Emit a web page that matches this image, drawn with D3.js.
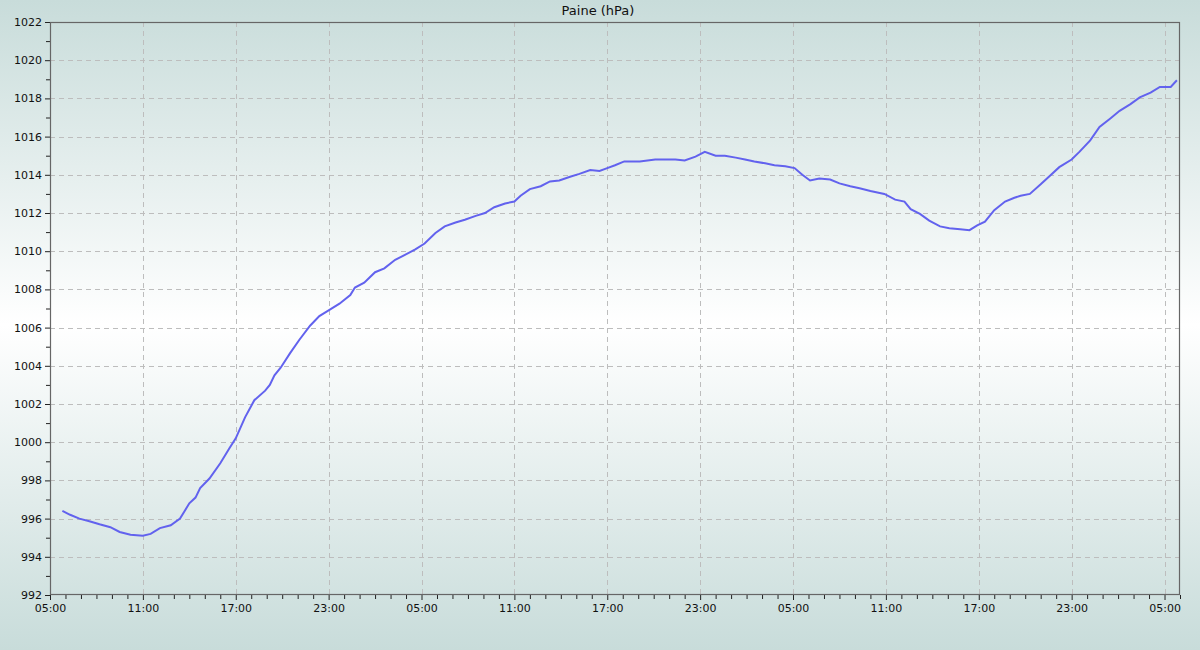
<!DOCTYPE html>
<html><head><meta charset="utf-8">
<script src="https://cdn.jsdelivr.net/npm/d3@7"></script>
<style>html,body{margin:0;padding:0;background:#fff}svg{display:block}</style>
</head><body>
<script>
const title = "Paine (hPa)";
// hours since 05:00 on the first day
const hours = [0.8,1.3,1.9,2.6,3.2,3.9,4.5,5.2,6.0,6.5,7.1,7.8,8.4,8.7,9.0,9.4,9.7,10.3,11.0,11.6,12.0,12.6,13.2,13.9,14.2,14.5,14.9,15.5,16.1,16.8,17.4,18.0,18.7,19.4,19.7,20.3,21.0,21.6,22.3,22.9,23.6,24.2,24.9,25.5,26.2,26.8,27.5,28.1,28.7,29.4,30.0,30.4,31.0,31.7,32.3,32.9,33.6,34.2,34.9,35.5,36.0,36.5,37.1,38.1,39.1,39.7,40.4,41.0,41.7,42.3,43.0,43.6,44.3,44.9,45.5,46.2,46.8,47.5,48.1,48.6,49.1,49.7,50.4,51.0,51.7,52.3,53.0,53.6,53.9,54.6,55.2,55.6,56.2,56.8,57.5,58.1,58.8,59.4,59.9,60.4,61.0,61.7,62.3,62.7,63.3,64.0,64.6,65.2,66.0,66.5,67.2,67.8,68.5,69.1,69.8,70.4,71.1,71.7,72.4,72.8];
const pressure = [996.4,996.2,996.0,995.85,995.7,995.55,995.3,995.15,995.1,995.2,995.5,995.65,996.0,996.4,996.8,997.1,997.6,998.1,998.9,999.7,1000.2,1001.3,1002.2,1002.7,1003.0,1003.5,1003.9,1004.65,1005.35,1006.1,1006.6,1006.9,1007.25,1007.7,1008.1,1008.35,1008.9,1009.1,1009.55,1009.8,1010.1,1010.4,1010.95,1011.3,1011.5,1011.65,1011.85,1012.0,1012.3,1012.5,1012.6,1012.9,1013.25,1013.4,1013.65,1013.7,1013.9,1014.05,1014.25,1014.2,1014.35,1014.5,1014.7,1014.7,1014.8,1014.8,1014.8,1014.75,1014.95,1015.2,1015.0,1015.0,1014.9,1014.8,1014.7,1014.6,1014.5,1014.45,1014.35,1014.0,1013.7,1013.8,1013.75,1013.55,1013.4,1013.3,1013.15,1013.05,1013.0,1012.7,1012.6,1012.2,1011.95,1011.6,1011.3,1011.2,1011.15,1011.1,1011.35,1011.55,1012.15,1012.6,1012.8,1012.9,1013.0,1013.5,1013.95,1014.4,1014.8,1015.2,1015.8,1016.5,1016.95,1017.35,1017.7,1018.05,1018.3,1018.6,1018.6,1018.95];
const xTickHours = [0,6,12,18,24,30,36,42,48,54,60,66,72];
const xTickLabels = ["05:00","11:00","17:00","23:00","05:00","11:00","17:00","23:00","05:00","11:00","17:00","23:00","05:00"];
const yTicks = [992,994,996,998,1000,1002,1004,1006,1008,1010,1012,1014,1016,1018,1020,1022];

const W = 1200, H = 650;
const m = {left:50, right:20, top:22, bottom:55};
const svg = d3.select("body").append("svg").attr("width",W).attr("height",H);
const defs = svg.append("defs");
const g = defs.append("linearGradient").attr("id","bg").attr("x1",0).attr("y1",0).attr("x2",0).attr("y2",1);
g.append("stop").attr("offset","0%").attr("stop-color","#c8dcda");
g.append("stop").attr("offset","50%").attr("stop-color","#ffffff");
g.append("stop").attr("offset","100%").attr("stop-color","#c8dcda");
svg.append("rect").attr("width",W).attr("height",H).attr("fill","url(#bg)");

const x = d3.scaleLinear().domain([0,73]).range([m.left, W-m.right]);
const y = d3.scaleLinear().domain([992,1022]).range([H-m.bottom, m.top]);

// grid
const grid = svg.append("g").attr("stroke","#bdbdbd").attr("stroke-dasharray","5,4").attr("stroke-width",1);
xTickHours.slice(1).forEach(h=>{ if(x(h)<W-m.right-1) grid.append("line").attr("x1",Math.round(x(h))+0.5).attr("x2",Math.round(x(h))+0.5).attr("y1",m.top).attr("y2",H-m.bottom); });
yTicks.slice(1,-1).forEach(v=>{ grid.append("line").attr("y1",Math.round(y(v))+0.5).attr("y2",Math.round(y(v))+0.5).attr("x1",m.left).attr("x2",W-m.right); });

// axes
const yAxis = d3.axisLeft(y).tickValues(yTicks).tickSize(5).tickPadding(3).tickFormat(d3.format("d"));
const yMinor = d3.axisLeft(y).tickValues(d3.range(993,1022,2)).tickSize(4).tickFormat("");
const xAxis = d3.axisBottom(x).tickValues(xTickHours).tickSize(5).tickPadding(4).tickFormat((d,i)=>xTickLabels[i]);
const xMinor = d3.axisBottom(x).tickValues(d3.range(1,74,1).filter(h=>h%6!==0)).tickSize(4).tickFormat("");

function style(sel){
  sel.selectAll(".domain").remove();
  sel.selectAll("line").attr("stroke","#222");
  sel.selectAll("text").attr("font-family","DejaVu Sans, sans-serif").attr("font-size","11px").attr("fill","#111");
}
svg.append("g").attr("transform",`translate(${m.left},0)`).call(yAxis).call(style);
svg.append("g").attr("transform",`translate(${m.left},0)`).call(yMinor).call(style);
svg.append("g").attr("transform",`translate(0,${H-m.bottom})`).call(xAxis).call(style);
svg.append("g").attr("transform",`translate(0,${H-m.bottom})`).call(xMinor).call(style);

// frame
svg.append("rect").attr("x",m.left+0.5).attr("y",m.top+0.5).attr("width",W-m.left-m.right-1).attr("height",H-m.top-m.bottom-1)
  .attr("fill","none").attr("stroke","#666").attr("stroke-width",1.2);

// line
const data = hours.map((h,i)=>({h, v:pressure[i]}));
svg.append("path").datum(data)
  .attr("fill","none").attr("stroke","#6262ee").attr("stroke-width",2)
  .attr("d", d3.line().x(d=>x(d.h)).y(d=>y(d.v)));

svg.append("text").attr("x",598).attr("y",15).attr("text-anchor","middle")
  .attr("font-family","DejaVu Sans, sans-serif").attr("font-size","13px").attr("fill","#111").text(title);
</script>
</body></html>
